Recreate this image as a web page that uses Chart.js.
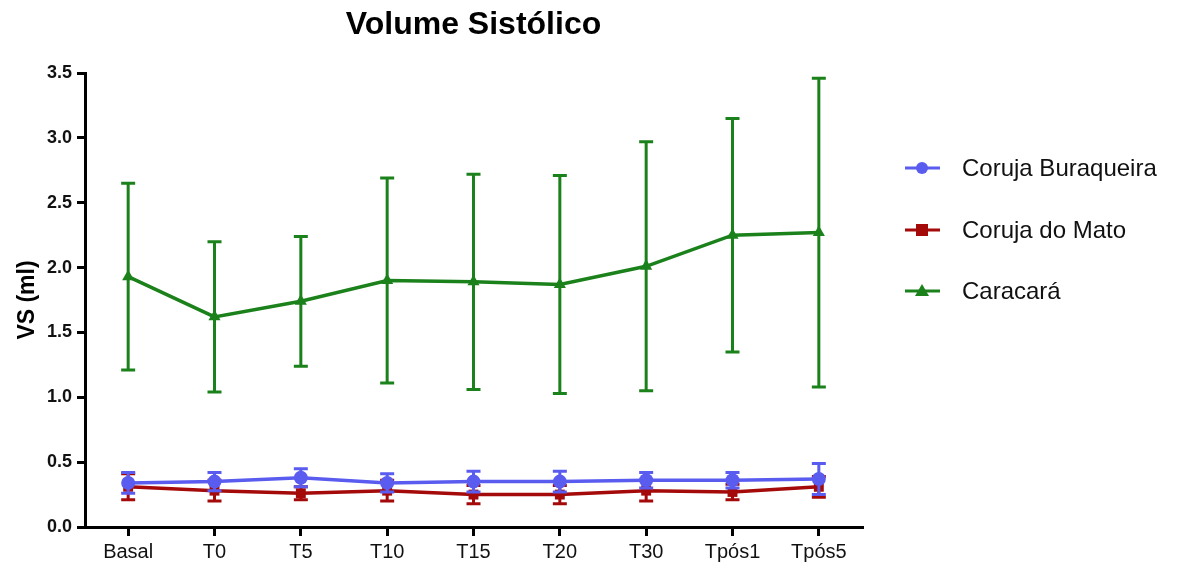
<!DOCTYPE html>
<html>
<head>
<meta charset="utf-8">
<script src="https://cdn.jsdelivr.net/npm/chart.js@4.4.1/dist/chart.umd.min.js"></script>
<style>
  html, body { margin: 0; padding: 0; background: #fff; }
  #wrap { width: 1178px; height: 563px; }
</style>
</head>
<body>
<div id="wrap"><canvas id="grafico" width="1178" height="563"></canvas></div>
<script>
const categorias = ['Basal', 'T0', 'T5', 'T10', 'T15', 'T20', 'T30', 'Tpós1', 'Tpós5'];

const nomesSeries = ['Coruja Buraqueira', 'Coruja do Mato', 'Caracará'];

// médias
const corujaBuraqueira = [0.34, 0.35, 0.38, 0.34, 0.35, 0.35, 0.36, 0.36, 0.37];
const corujaDoMato = [0.31, 0.28, 0.26, 0.28, 0.25, 0.25, 0.28, 0.27, 0.31];
const caracara = [1.93, 1.62, 1.74, 1.90, 1.89, 1.87, 2.01, 2.25, 2.27];

// desvio padrão (barras de erro)
const dpBuraqueira = [0.08, 0.07, 0.07, 0.07, 0.08, 0.08, 0.06, 0.06, 0.12];
const dpMato = [0.10, 0.08, 0.05, 0.08, 0.07, 0.07, 0.08, 0.06, 0.08];
const dpCaracara = [0.72, 0.58, 0.50, 0.79, 0.83, 0.84, 0.96, 0.90, 1.19];

const ticksY = [0.0, 0.5, 1.0, 1.5, 2.0, 2.5, 3.0, 3.5];

const cores = ['#5a5cf0', '#a50a0a', '#1b811b'];
const estilos = ['circle', 'rect', 'triangle'];
const raios = [7, 7, 7];
const desvios = [dpBuraqueira, dpMato, dpCaracara];
const fonte = 'Arial, "Liberation Sans", sans-serif';

// barras de erro desenhadas antes de cada série
const barrasErro = {
  id: 'barrasErro',
  beforeDatasetDraw(chart, args) {
    const ctx = chart.ctx;
    const y = chart.scales.y;
    const dp = desvios[args.index];
    const dados = chart.data.datasets[args.index].data;
    ctx.save();
    ctx.strokeStyle = cores[args.index];
    ctx.lineWidth = 3;
    args.meta.data.forEach((pt, i) => {
      const yTop = y.getPixelForValue(dados[i] + dp[i]);
      const yBot = y.getPixelForValue(dados[i] - dp[i]);
      ctx.beginPath();
      ctx.moveTo(pt.x, yTop);
      ctx.lineTo(pt.x, yBot);
      ctx.moveTo(pt.x - 7, yTop);
      ctx.lineTo(pt.x + 7, yTop);
      ctx.moveTo(pt.x - 7, yBot);
      ctx.lineTo(pt.x + 7, yBot);
      ctx.stroke();
    });
    ctx.restore();
  }
};

// legenda à direita, no estilo do gráfico original
const legendaLateral = {
  id: 'legendaLateral',
  afterDraw(chart) {
    const ctx = chart.ctx;
    const linhasY = [168, 230, 291];
    ctx.save();
    nomesSeries.forEach((nome, i) => {
      const yy = linhasY[i];
      ctx.strokeStyle = cores[i];
      ctx.lineWidth = 3;
      ctx.beginPath();
      ctx.moveTo(905, yy);
      ctx.lineTo(940, yy);
      ctx.stroke();
      ctx.fillStyle = cores[i];
      ctx.beginPath();
      if (estilos[i] === 'circle') {
        ctx.arc(922, yy, 6, 0, Math.PI * 2);
      } else if (estilos[i] === 'rect') {
        ctx.rect(916, yy - 6, 12, 12);
      } else {
        ctx.moveTo(922, yy - 7);
        ctx.lineTo(929, yy + 5);
        ctx.lineTo(915, yy + 5);
        ctx.closePath();
      }
      ctx.fill();
      ctx.fillStyle = '#111';
      ctx.font = '24px ' + fonte;
      ctx.textBaseline = 'middle';
      ctx.fillText(nome, 962, yy + 1);
    });
    ctx.restore();
  }
};

const ctx = document.getElementById('grafico').getContext('2d');
new Chart(ctx, {
  type: 'line',
  data: {
    labels: categorias,
    datasets: [corujaBuraqueira, corujaDoMato, caracara].map((serie, i) => ({
      label: nomesSeries[i],
      data: serie,
      borderColor: cores[i],
      backgroundColor: cores[i],
      borderWidth: 3.5,
      pointStyle: estilos[i],
      pointRadius: raios[i],
      pointBorderWidth: 0,
      tension: 0,
      fill: false,
    })),
  },
  options: {
    responsive: false,
    animation: false,
    layout: {
      padding: { left: 10, right: 316, top: 0, bottom: 0 },
    },
    plugins: {
      legend: { display: false },
      tooltip: { enabled: false },
      title: {
        display: true,
        text: 'Volume Sistólico',
        fullSize: false,
        color: '#000',
        font: { family: fonte, size: 32, weight: 'bold' },
        padding: { top: 6, bottom: 28.6 },
      },
    },
    scales: {
      x: {
        offset: true,
        afterFit: (s) => { s.height = 36; },
        grid: { drawOnChartArea: false, drawTicks: true, tickLength: 9, color: '#000', lineWidth: 3, offset: false },
        border: { display: true, color: '#000', width: 3 },
        ticks: {
          color: '#111',
          padding: 4,
          font: { family: fonte, size: 20 },
          maxRotation: 0,
        },
      },
      y: {
        min: 0,
        max: 3.5,
        afterFit: (s) => { s.width = 75; },
        afterBuildTicks: (scale) => { scale.ticks = ticksY.map(v => ({ value: v })); },
        grid: { drawOnChartArea: false, drawTicks: true, tickLength: 8, color: '#000', lineWidth: 3 },
        border: { display: true, color: '#000', width: 3 },
        ticks: {
          color: '#111',
          padding: 5,
          font: { family: fonte, size: 18, weight: 'bold' },
          callback: (v) => Number(v).toFixed(1),
        },
        title: {
          display: true,
          text: 'VS (ml)',
          color: '#000',
          font: { family: fonte, size: 23, weight: 'bold' },
          padding: { top: 4, bottom: 0 },
        },
      },
    },
  },
  plugins: [barrasErro, legendaLateral],
});
</script>
</body>
</html>
